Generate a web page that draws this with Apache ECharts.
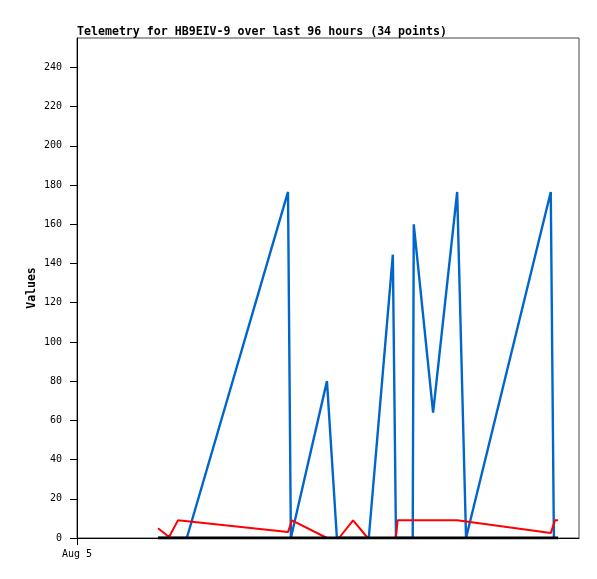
<!DOCTYPE html>
<html>
<head>
<meta charset="utf-8">
<script src="https://cdn.jsdelivr.net/npm/echarts@6/dist/echarts.min.js"></script>
<style>
html,body{margin:0;padding:0;background:#fff;}
#c{width:597px;height:579px;}
</style>
</head>
<body>
<div id="c"></div>
<script>
// x values are hours since the start of the 96-hour window (Aug 5)
const titleText = 'Telemetry for HB9EIV-9 over last 96 hours (34 points)';
const yAxisName = 'Values';
const xStartLabel = 'Aug 5';
const yTicks = [0, 20, 40, 60, 80, 100, 120, 140, 160, 180, 200, 220, 240];

const blueX = [15.5, 21.0, 40.35, 40.9, 47.8, 49.7, 55.8, 60.4, 61.0, 64.2, 64.4, 68.1, 72.7, 74.4, 90.6, 91.2];
const blueY = [0, 0, 176.5, 0, 80, 0, 0, 144.5, 0, 0, 160, 64, 176.5, 0, 176.5, 0];

const redX = [15.5, 17.6, 19.3, 40.35, 41.1, 47.8, 50.1, 52.8, 55.6, 60.9, 61.1, 61.3, 72.7, 90.6, 91.4, 92.0];
const redY = [5, 0.5, 9, 3, 9, 0, 0, 9, 0, 0, 3, 9, 9, 2.5, 9, 9];

const blackX = [15.5, 92.0];
const blackY = [0, 0];

const zip = (xs, ys) => xs.map((x, i) => [x, ys[i]]);

const chart = echarts.init(document.getElementById('c'));
chart.setOption({
  animation: false,
  backgroundColor: '#fff',
  title: {
    text: titleText,
    left: 77, top: 26, padding: 0,
    textStyle: {fontFamily: 'DejaVu Sans Mono', fontWeight: 'bold', fontSize: 11.6, color: '#000'}
  },
  grid: {left: 77, top: 38, right: 18, bottom: 41, show: true, borderColor: '#444', borderWidth: 1},
  xAxis: {
    type: 'value', min: 0, max: 96,
    axisLine: {show: true, onZero: false, lineStyle: {color: '#000', width: 1}},
    splitLine: {show: false},
    axisTick: {show: true, inside: false, customValues: [0], length: 7, lineStyle: {color: '#000'}},
    axisLabel: {customValues: [0], formatter: () => xStartLabel, fontFamily: 'DejaVu Sans Mono', fontSize: 10, color: '#000', margin: 11}
  },
  yAxis: {
    type: 'value', min: 0, max: 255,
    name: yAxisName, nameLocation: 'middle', nameGap: 39, nameMoveOverlap: false,
    nameTextStyle: {fontFamily: 'DejaVu Sans Mono', fontWeight: 'bold', fontSize: 11.5, color: '#000'},
    axisLine: {show: true, lineStyle: {color: '#000', width: 1}},
    splitLine: {show: false},
    axisTick: {show: true, inside: false, customValues: yTicks, length: 7, lineStyle: {color: '#000'}},
    axisLabel: {customValues: yTicks, fontFamily: 'DejaVu Sans Mono', fontSize: 10, color: '#000', margin: 15}
  },
  series: [
    {type: 'line', data: zip(blueX, blueY), symbol: 'none', lineStyle: {color: '#0066cc', width: 2.4}, z: 2},
    {type: 'line', data: zip(redX, redY), symbol: 'none', lineStyle: {color: '#ff0000', width: 2}, z: 3},
    {type: 'line', data: zip(blackX, blackY), symbol: 'none', lineStyle: {color: '#000', width: 3}, z: 4}
  ]
});
</script>
</body>
</html>
